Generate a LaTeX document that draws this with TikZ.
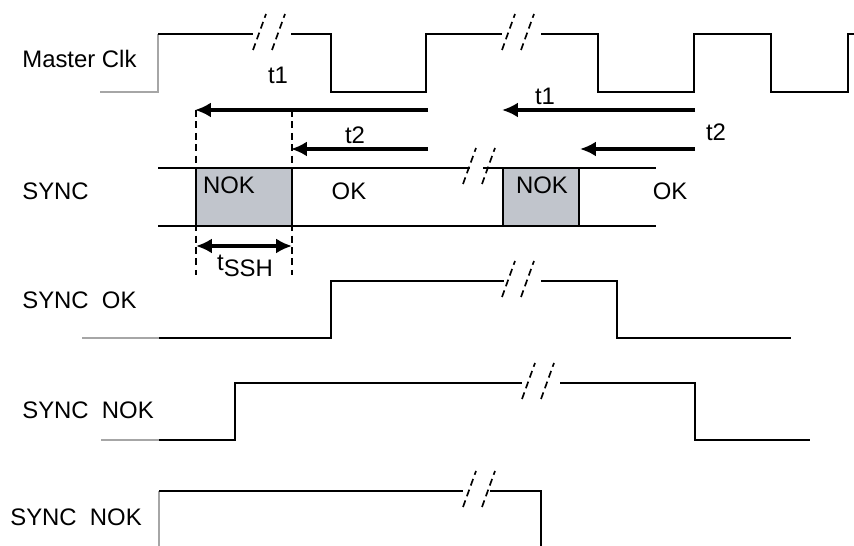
\documentclass[tikz,border=0pt]{standalone}
\usepackage{fontspec}
\setmainfont{Liberation Sans}
\usetikzlibrary{arrows.meta}

\definecolor{nokgray}{RGB}{193,197,204}

% two dashed slashes that mark a break in a signal line
\newcommand{\sigbreak}[2]{%
  \draw[brkmark] (#1,#2+16) -- (#1+13,#2-20);
  \draw[brkmark] (#1+19,#2+16) -- (#1+32,#2-20);
}

\begin{document}
\begin{tikzpicture}[
        x=0.02cm, y=-0.02cm,
        sig/.style={line width=0.8pt},
        faint/.style={line width=0.8pt, black!35},
        brkmark/.style={line width=0.95pt, dash pattern=on 4pt off 2.5pt},
        guide/.style={line width=1.3pt, dash pattern=on 4pt off 2.5pt},
        tarrow/.style={line width=2.1pt, -{Latex[length=9pt,width=8.5pt]}},
        tboth/.style={line width=2.1pt, {Latex[length=9pt,width=8.5pt]}-{Latex[length=9pt,width=8.5pt]}},
        lbl/.style={font=\fontsize{13.6}{16}\selectfont, inner sep=0pt}
    ]
        \useasboundingbox (0,0) rectangle (854,546);

        % Signal names
        \node[lbl, anchor=west] (nclk) at (22,59) {Master Clk};
        \node[lbl, anchor=west] (nsync) at (22,191) {SYNC};
        \node[lbl, anchor=west] (nsok) at (22,300) {SYNC\ \ OK};
        \node[lbl, anchor=west] (nsnok) at (22,410) {SYNC\ \ NOK};
        \node[lbl, anchor=west] (nsnokb) at (10,517) {SYNC\ \ NOK};

        % Master clock
        \draw[faint] (100,92) -- (158,92) -- (158,34);
        \draw[sig] (158,34) -- (253,34) (291,34) -- (331,34) -- (331,92) -- (426,92) -- (426,34) -- (502,34)
            (541,34) -- (598,34) -- (598,92) -- (694,92) -- (694,34) -- (771,34) -- (771,92) -- (848,92) -- (848,34) -- (854,34);
        \sigbreak{253}{34}
        \sigbreak{502}{34}

        % SYNC bus
        \fill[nokgray] (196,168) rectangle (292,226);
        \fill[nokgray] (503,168) rectangle (579,226);
        \draw[sig] (158,168) -- (470,168) (483,168) -- (656,168);
        \draw[sig] (158,226) -- (656,226);
        \draw[sig] (196,168) -- (196,226) (292,168) -- (292,226);
        \draw[sig] (503,168) -- (503,226) (579,168) -- (579,226);
        \sigbreak{463}{168}
        \node[lbl] (nok1) at (229,185) {NOK};
        \node[lbl] (ok1) at (349,191) {OK};
        \node[lbl] (nok2) at (542,185) {NOK};
        \node[lbl] (ok2) at (670,191) {OK};

        % Timing arrows
        \coordinate (t1a) at (428,110);
        \coordinate (t1b) at (195,110);
        \coordinate (t2a) at (428,149);
        \coordinate (t2b) at (291,149);
        \coordinate (t1c) at (695,110);
        \coordinate (t1d) at (502,110);
        \coordinate (t2c) at (695,149);
        \coordinate (t2d) at (580,149);
        \draw[tarrow] (t1a) -- (t1b);
        \draw[tarrow] (t2a) -- (t2b);
        \draw[tarrow] (t1c) -- (t1d);
        \draw[tarrow] (t2c) -- (t2d);
        \node[lbl] (lt1) at (278,75) {t1};
        \node[lbl] (lt2) at (355,135) {t2};
        \node[lbl] (lt1b) at (545,96) {t1};
        \node[lbl] (lt2b) at (716,132) {t2};

        % Hold time
        \coordinate (g1a) at (196,110);
        \coordinate (g1b) at (196,275);
        \coordinate (g2a) at (292,110);
        \coordinate (g2b) at (292,275);
        \draw[guide] (g1a) -- (g1b);
        \draw[guide] (g2a) -- (g2b);
        \coordinate (ha) at (196,246);
        \coordinate (hb) at (292,246);
        \draw[tboth] (ha) -- (hb);
        \node[lbl] (ltssh) at (245,266) {t\raisebox{-0.5ex}{SSH}};

        % SYNC OK
        \draw[faint] (82,338) -- (159,338);
        \draw[sig] (159,338) -- (331,338) -- (331,281) -- (504,281) (541,281) -- (617,281) -- (617,338) -- (791,338);
        \sigbreak{502}{281}

        % SYNC NOK
        \draw[faint] (101,440) -- (159,440);
        \draw[sig] (159,440) -- (235,440) -- (235,383) -- (522,383) (560,383) -- (695,383) -- (695,440) -- (810,440);
        \sigbreak{522}{383}

        % SYNC NOK, second case
        \draw[faint] (159,491) -- (159,546);
        \draw[sig] (159,491) -- (463,491) (490,491) -- (541,491) -- (541,546);
        \sigbreak{463}{491}

    \end{tikzpicture}
\end{document}
